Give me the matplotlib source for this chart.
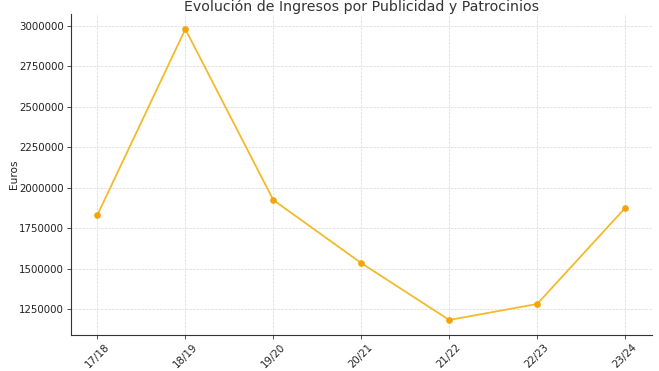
import matplotlib
matplotlib.use("Agg")
import matplotlib.pyplot as plt

temporadas = ["17/18", "18/19", "19/20", "20/21", "21/22", "22/23", "23/24"]
ingresos = [1831000, 2981000, 1924000, 1534000, 1182000, 1281000, 1875000]
yticks = [1250000, 1500000, 1750000, 2000000, 2250000, 2500000, 2750000, 3000000]

fig = plt.figure(figsize=(6.59, 3.71), dpi=100)
ax = fig.add_axes([0.1077, 0.097, 0.881, 0.865])

ax.plot(temporadas, ingresos, color="#f3bb2a", linewidth=1.3, marker="o",
        markersize=3.8, markerfacecolor="#f5a30a", markeredgecolor="#f5a30a")

ax.set_ylim(1089000, 3074000)
ax.set_yticks(yticks)
ax.set_yticklabels([str(v) for v in yticks])
ax.grid(True, linestyle="--", linewidth=0.5, color="#d8d8d8")
ax.set_axisbelow(True)
for s in ["top", "right"]:
    ax.spines[s].set_visible(False)
for s in ["left", "bottom"]:
    ax.spines[s].set_color("#333333")
    ax.spines[s].set_linewidth(0.8)
ax.tick_params(axis="both", labelsize=7.4, colors="#333333", labelcolor="#222222",
               length=2.7, pad=2.5, width=0.6)
plt.setp(ax.get_xticklabels(), rotation=45)
ax.set_ylabel("Euros", fontsize=7.6, color="#222222", labelpad=0)
ax.set_title("Evolución de Ingresos por Publicidad y Patrocinios", fontsize=10.2,
             color="#333333", pad=2.5)

fig.savefig("out.png", dpi=100)
